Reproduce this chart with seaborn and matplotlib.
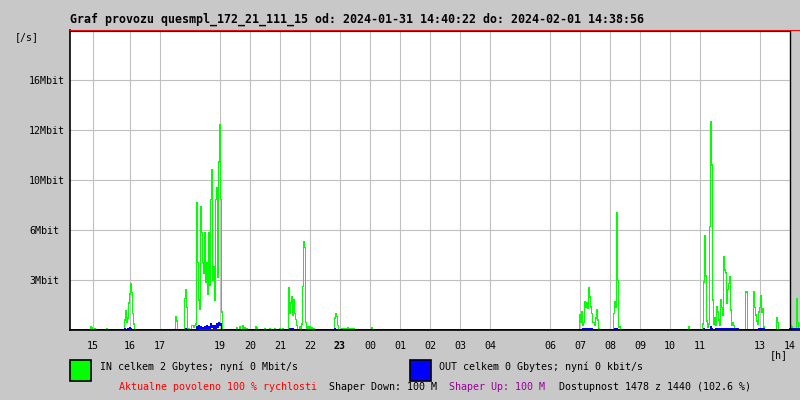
import numpy as np
import pandas as pd
import matplotlib
matplotlib.use("Agg")
import matplotlib.pyplot as plt
from matplotlib.patches import Rectangle
import seaborn as sns

plt.rcParams['font.family'] = ['DejaVu Sans Mono']

title = "Graf provozu quesmpl_172_21_111_15 od: 2024-01-31 14:40:22 do: 2024-02-01 14:38:56"

# hour ticks (minutes since start of the graph, 14:40)
hour_labels = ['15', '16', '17', '19', '20', '21', '22', '23', '00', '01', '02',
               '03', '04', '06', '07', '08', '09', '10', '11', '13', '14']
hour_minutes = [46, 120, 180, 300, 360, 420, 480, 540, 600, 660, 720,
                780, 840, 960, 1020, 1080, 1140, 1200, 1260, 1380, 1440]

y_tick_mbit = [3.333, 6.667, 10.0, 13.333, 16.667]
y_tick_labels = ['3Mbit', '6Mbit', '10Mbit', '12Mbit', '16Mbit']

# IN traffic (Mbit/s) at sample minutes; other samples ~0
in_minutes = [42, 44, 50, 74,
              110, 112, 114, 116, 118, 120, 122, 124, 126, 128,
              212, 214, 230, 232, 234,
              238, 244, 246, 248, 250, 252,
              254, 256, 258, 260, 262, 264, 266, 268, 270, 272, 274, 276, 278, 280,
              282, 284, 286, 288, 290, 292, 294, 296, 298, 300, 302, 304,
              334, 340, 346, 350, 354, 372, 374, 390, 400, 410, 420, 426,
              438, 440, 442, 444, 446, 448, 450, 452, 454,
              460, 464, 466, 468, 470, 472, 476, 480, 484, 488,
              530, 532, 534, 536, 544, 548, 552, 556, 560, 564, 568, 604,
              1020, 1022, 1024, 1026, 1028, 1030, 1032, 1034, 1036, 1038, 1040,
              1042, 1044, 1046, 1048, 1050, 1052, 1054, 1056, 1058,
              1088, 1090, 1092, 1094, 1096, 1098, 1100,
              1238,
              1266, 1268, 1270, 1272, 1274, 1276, 1278, 1280, 1282, 1284, 1286,
              1288, 1290, 1292, 1294, 1296, 1298, 1300, 1302, 1304, 1306, 1308,
              1310, 1312, 1314, 1316, 1318, 1320, 1322, 1324, 1326, 1328,
              1352, 1354,
              1368, 1370, 1372, 1374, 1376, 1378, 1380, 1382, 1384, 1386, 1388,
              1414, 1416, 1442, 1444, 1454, 1456]
in_mbit = [0.18, 0.15, 0.1, 0.1,
           0.67, 1.3, 0.5, 0.8, 1.8, 2.4, 3.07, 2.5, 1.1, 0.4,
           0.9, 0.6, 2.1, 2.7, 1.5,
           0.1, 0.3, 0.3, 0.2, 0.3, 0.4,
           8.5, 4.5, 2.0, 1.4, 8.2, 6.5, 4.5, 3.8, 6.5, 3.2, 4.5, 2.4, 6.5, 3.0,
           8.7, 10.7, 3.3, 4.2, 2.0, 8.7, 9.5, 3.5, 11.2, 13.7, 8.7, 1.2,
           0.15, 0.2, 0.25, 0.15, 0.1, 0.2, 0.15, 0.1, 0.1, 0.1, 0.1, 0.1,
           2.8, 1.1, 1.8, 2.2, 1.0, 2.0, 1.1, 0.7, 0.3,
           0.2, 0.4, 2.9, 5.9, 5.5, 0.5, 0.2, 0.2, 0.15, 0.1,
           0.8, 1.07, 0.9, 0.3, 0.1, 0.1, 0.1, 0.15, 0.1, 0.1, 0.1, 0.13,
           1.0, 0.5, 1.2, 0.3, 0.5, 1.9, 1.55, 1.8, 1.47, 2.8, 2.2,
           1.55, 1.1, 0.5, 0.5, 0.3, 0.8, 1.33, 0.67, 0.1,
           1.1, 1.9, 1.5, 7.8, 3.3, 0.2, 0.2,
           0.2,
           0.4, 3.2, 6.3, 3.6, 0.6, 0.2, 0.4, 6.9, 13.9, 11.0, 2.0,
           0.4, 0.8, 0.3, 1.55, 1.2, 0.67, 0.3, 2.0, 1.5, 1.0, 4.9,
           4.0, 3.8, 1.8, 2.7, 3.1, 3.55, 1.33, 0.3, 0.47, 0.3,
           2.55, 2.55,
           2.55, 1.5, 1.0, 0.6, 0.4, 1.2, 1.5, 2.3, 1.2, 1.4, 0.2,
           0.8, 0.5, 0.27, 0.2, 2.07, 0.5]

# OUT traffic (Mbit/s)
out_minutes = [110, 116, 120, 122, 232,
               254, 256, 258, 260, 262, 264, 266, 268, 270, 272, 274, 276, 278,
               280, 282, 284, 286, 288, 290, 292, 294, 296, 298, 300, 302,
               440, 442, 444, 446, 530,
               1026, 1028, 1030, 1032, 1034, 1036, 1038, 1040, 1042, 1044,
               1090, 1094, 1268, 1282, 1284,
               1292, 1294, 1296, 1298, 1300, 1302, 1304, 1306, 1308, 1310, 1312,
               1314, 1316, 1318, 1320, 1322, 1324, 1326, 1328, 1330, 1332, 1334, 1336,
               1378, 1380, 1382, 1384, 1386, 1388,
               1440, 1442, 1444, 1446, 1448, 1450, 1452, 1454, 1456, 1458, 1460]
out_mbit = [0.07, 0.07, 0.15, 0.1, 0.1,
            0.2, 0.07, 0.3, 0.1, 0.2, 0.1, 0.15, 0.1, 0.2, 0.1, 0.3, 0.1, 0.2,
            0.15, 0.4, 0.2, 0.3, 0.15, 0.25, 0.1, 0.4, 0.2, 0.45, 0.3, 0.4,
            0.07, 0.1, 0.07, 0.07, 0.1,
            0.07, 0.07, 0.07, 0.07, 0.07, 0.07, 0.07, 0.07, 0.07, 0.07,
            0.07, 0.1, 0.07, 0.2, 0.07,
            0.07, 0.07, 0.07, 0.07, 0.07, 0.07, 0.07, 0.07, 0.07, 0.07, 0.07,
            0.07, 0.07, 0.07, 0.07, 0.07, 0.07, 0.07, 0.07, 0.07, 0.07, 0.07, 0.07,
            0.07, 0.07, 0.07, 0.07, 0.07, 0.07,
            0.07, 0.07, 0.07, 0.07, 0.07, 0.07, 0.07, 0.07, 0.07, 0.07, 0.07]

legend_in = "IN celkem 2 Gbytes; nyní 0 Mbit/s"
legend_out = "OUT celkem 0 Gbytes; nyní 0 kbit/s"
foot_red = "Aktualne povoleno 100 % rychlosti"
foot_down = "Shaper Down: 100 M"
foot_up = "Shaper Up: 100 M"
foot_avail = "Dostupnost 1478 z 1440 (102.6 %)"

# ---- build sample table (samples every 2 minutes) ----
t = np.arange(0, 1462, 2)
in_s = pd.Series(0.0, index=t)
in_s.loc[in_minutes] = in_mbit
out_s = pd.Series(0.0, index=t)
out_s.loc[out_minutes] = out_mbit
df = pd.DataFrame({'min': t, 'IN': in_s.values, 'OUT': out_s.values})

BG = '#c8c8c8'
W, H = 800, 400
fig = plt.figure(figsize=(8, 4), dpi=100, facecolor=BG)
ax = fig.add_axes([70 / W, 70 / H, 730 / W, 300 / H])
ax.set_facecolor('white')
ax.set_xlim(0, 1460)
ax.set_ylim(0, 20)

ax.axvspan(1440, 1460, color=BG, lw=0, zorder=0.5)
for m in hour_minutes[:-1]:
    ax.axvline(m, color='#c0c0c0', lw=0.8, zorder=1)
for v in y_tick_mbit:
    ax.axhline(v, xmax=1440 / 1460, color='#c0c0c0', lw=0.8, zorder=1)

sns.lineplot(data=df, x='min', y='IN', ax=ax, color='#00ff00', lw=0.55,
             drawstyle='steps-mid', estimator=None, zorder=2, antialiased=False)
sns.lineplot(data=df, x='min', y='OUT', ax=ax, color='#0000ff', lw=0.55,
             drawstyle='steps-mid', estimator=None, zorder=3, antialiased=False)

ax.axvline(1440, color='black', lw=1.0, zorder=4)
ax.plot([0, 1440], [19.93, 19.93], color='black', lw=0.8, zorder=4)

for s in ['left', 'bottom']:
    ax.spines[s].set_color('black')
    ax.spines[s].set_linewidth(1.2)
ax.spines['right'].set_visible(False)
ax.spines['top'].set_color('#ff0000')
ax.spines['top'].set_linewidth(0.8)
for sp in ax.spines.values():
    sp.set_zorder(5)

ax.set_xlabel('')
ax.set_ylabel('')
ax.set_xticks(hour_minutes, hour_labels)
ax.set_yticks(y_tick_mbit, y_tick_labels)
ax.tick_params(axis='x', length=0, pad=8, labelsize=7.2, colors='black')
ax.tick_params(axis='y', length=0, pad=29.5, labelsize=7.2, colors='black')
for lab in ax.get_yticklabels():
    lab.set_horizontalalignment('left')
for lab in ax.get_xticklabels():
    if lab.get_text() == '23':
        lab.set_fontweight('bold')

fs = 7.2
fig.text(70 / W, 1 - 19 / H, title, fontsize=8.35, fontweight='bold', va='center', ha='left')
fig.text(15 / W, 1 - 37 / H, '[/s]', fontsize=fs, va='center', ha='left')
fig.text(770 / W, 1 - 355 / H, '[h]', fontsize=fs, va='center', ha='left')

fig.patches.append(Rectangle((70 / W, 1 - 381 / H), 21 / W, 21 / H, transform=fig.transFigure,
                             facecolor='#00ff00', edgecolor='black', lw=1.2))
fig.patches.append(Rectangle((410 / W, 1 - 381 / H), 21 / W, 21 / H, transform=fig.transFigure,
                             facecolor='#0000ff', edgecolor='black', lw=1.2))
fig.text(100 / W, 1 - 367 / H, legend_in, fontsize=fs, va='center', ha='left')
fig.text(439 / W, 1 - 367 / H, legend_out, fontsize=fs, va='center', ha='left')

fig.text(119 / W, 1 - 387 / H, foot_red, fontsize=fs, va='center', ha='left', color='#ff0000')
fig.text(329 / W, 1 - 387 / H, foot_down, fontsize=fs, va='center', ha='left', color='black')
fig.text(449 / W, 1 - 387 / H, foot_up, fontsize=fs, va='center', ha='left', color='#990099')
fig.text(559 / W, 1 - 387 / H, foot_avail, fontsize=fs, va='center', ha='left', color='black')

fig.savefig('out.png', dpi=100, facecolor=BG)
